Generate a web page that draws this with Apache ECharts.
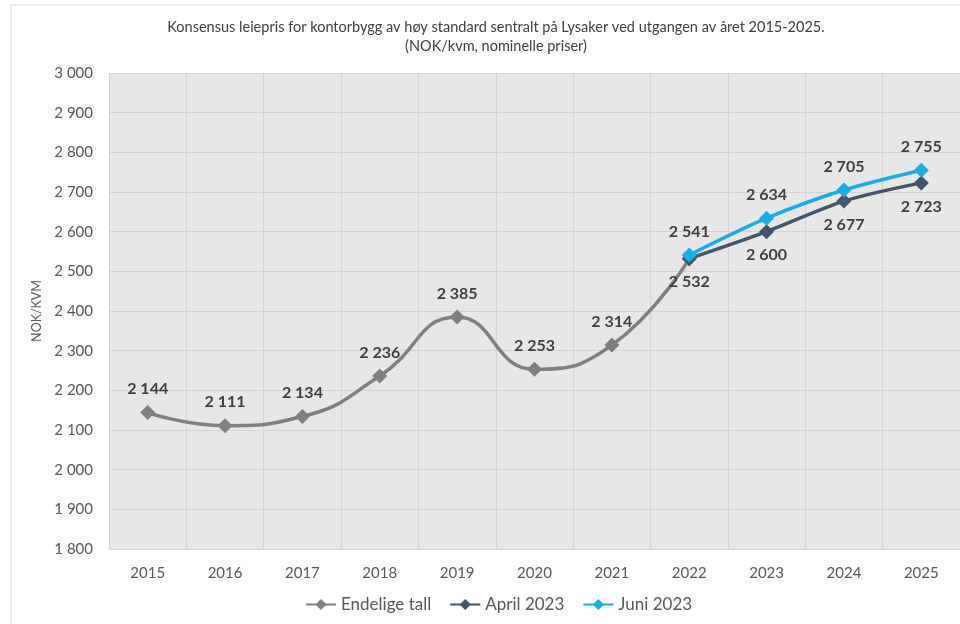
<!DOCTYPE html>
<html><head><meta charset="utf-8">
<script src="https://cdn.jsdelivr.net/npm/echarts@6/dist/echarts.min.js"></script>
<style>html,body{margin:0;padding:0;background:#fff}#c{width:960px;height:624px}</style>
</head><body><div id="c"></div>
<script>
const categories = ['2015','2016','2017','2018','2019','2020','2021','2022','2023','2024','2025'];
const endelige = [2144, 2111, 2134, 2236, 2385, 2253, 2314, 2532, null, null, null];
const april2023 = [null, null, null, null, null, null, null, 2532, 2600, 2677, 2723];
const juni2023 = [null, null, null, null, null, null, null, 2541, 2634, 2705, 2755];
const seriesNames = ['Endelige tall', 'April 2023', 'Juni 2023'];
const titleLines = ['Konsensus leiepris for kontorbygg av høy standard sentralt på Lysaker ved utgangen av året 2015-2025.', '(NOK/kvm, nominelle priser)'];

const fmt = v => { const s = String(Math.round(v)); return s.length > 3 ? s.slice(0, s.length-3) + ' ' + s.slice(-3) : s; };
const FONT = 'Lato';
const lbl = (pos, dist) => ({show:true, position:pos, distance:dist, fontFamily:FONT, fontSize:16, fontWeight:'bold', color:'#404040', formatter:p => fmt(p.value)});

const chart = echarts.init(document.getElementById('c'));
chart.setOption({
  animation:false,
  backgroundColor:'#fff',
  graphic:[
    {type:'rect', shape:{x:11, y:5, width:960, height:640}, style:{fill:'none', stroke:'#d9d9d9', lineWidth:1}, z:-1},
    {type:'text', x:496, y:18, style:{text:titleLines.join('\n'), align:'center', verticalAlign:'top', fontFamily:FONT, fontSize:14.5, lineHeight:19, fill:'#404040'}}
  ],
  grid:{left:109, top:73, width:855, height:476, backgroundColor:'#e7e7e7', show:true, borderWidth:0},
  legend:{bottom:6, left:300, itemWidth:30, itemHeight:14, itemGap:18, textStyle:{fontFamily:FONT, fontSize:17, color:'#595959'}, data:seriesNames},
  xAxis:{type:'category', data:categories, boundaryGap:true,
    axisLine:{show:true, lineStyle:{color:'#d4d4d4'}}, axisTick:{show:false},
    axisLabel:{fontFamily:FONT, fontSize:15, color:'#595959', margin:17},
    splitLine:{show:true, lineStyle:{color:'#d4d4d4'}}},
  yAxis:{type:'value', min:1800, max:3000, interval:100, name:'NOK/KVM', nameLocation:'middle', nameGap:62, nameRotate:90,
    nameTextStyle:{fontFamily:FONT, fontSize:12.5, color:'#595959'},
    axisLine:{show:false}, axisTick:{show:false},
    axisLabel:{fontFamily:FONT, fontSize:15, color:'#595959', margin:16, formatter:v => fmt(v)},
    splitLine:{lineStyle:{color:'#d4d4d4'}}},
  series:[
    {name:seriesNames[0], type:'line', data:endelige, smooth:0.5, symbol:'diamond', symbolSize:15, color:'#808080',
      lineStyle:{width:3.5, color:'#808080'}, itemStyle:{color:'#808080'}, z:2,
      label:Object.assign(lbl('top', 8), {formatter:p => p.dataIndex === 7 ? '' : fmt(p.value)})},
    {name:seriesNames[1], type:'line', data:april2023, smooth:0.3, symbol:'diamond', symbolSize:15, color:'#44546a',
      lineStyle:{width:3.5, color:'#44546a'}, itemStyle:{color:'#44546a'}, z:3, label:lbl('bottom', 8)},
    {name:seriesNames[2], type:'line', data:juni2023, smooth:0.3, symbol:'diamond', symbolSize:15, color:'#16aee8',
      lineStyle:{width:3.5, color:'#16aee8'}, itemStyle:{color:'#16aee8'}, z:4, label:lbl('top', 8)}
  ]
});
</script></body></html>
